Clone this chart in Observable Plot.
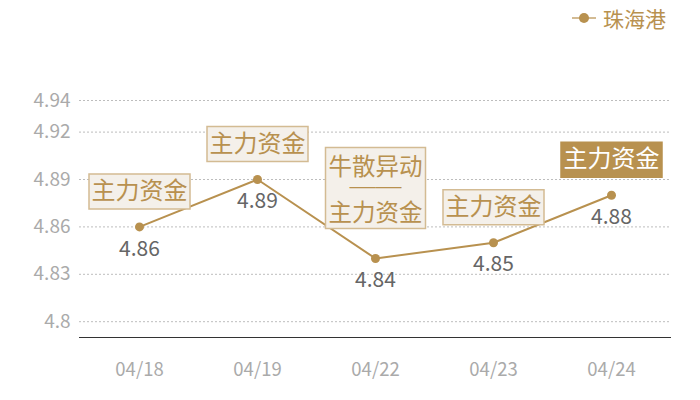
<!DOCTYPE html>
<html>
<head>
<meta charset="utf-8">
<script src="https://cdn.jsdelivr.net/npm/d3@7"></script>
<script src="https://cdn.jsdelivr.net/npm/@observablehq/plot@0.6"></script>
<style>
  html, body { margin: 0; padding: 0; background: #fff; }
  #wrap { position: relative; width: 700px; height: 400px; }
  #legend { position: absolute; top: 3px; left: 572px; display: flex; align-items: center;
    font-family: "Noto Sans CJK SC", sans-serif; font-size: 21px; color: #b8914f; }
  #legend .sw { position: relative; width: 24px; height: 26px; margin-right: 7px; }
  #legend .sw .ln { position: absolute; left: 0; right: 0; top: 12px; height: 2px; background: #d3bb93; }
  #legend .sw .dt { position: absolute; left: 7px; top: 8px; width: 10px; height: 10px; border-radius: 50%; background: #b8914f; }
</style>
</head>
<body>
<div id="wrap">
  <div id="chart"></div>
  <div id="legend"><span class="sw"><span class="ln"></span><span class="dt"></span></span><span>珠海港</span></div>
</div>
<script>
const dates = ["04/18", "04/19", "04/22", "04/23", "04/24"];
const prices = [4.86, 4.89, 4.84, 4.85, 4.88];
const tags = ["主力资金", "主力资金", "牛散异动\n——\n主力资金", "主力资金", "主力资金"];
const tagStyle = ["plain", "plain", "plain", "plain", "solid"];
const yTicks = [4.8, 4.83, 4.86, 4.89, 4.92, 4.94];
const yTickLabels = ["4.8", "4.83", "4.86", "4.89", "4.92", "4.94"];
const seriesName = "珠海港";

const data = dates.map((d, i) => ({date: d, price: prices[i], tag: tags[i], style: tagStyle[i], parts: tags[i].split("\n")}));

const gold = "#b8914f";
const font = "Noto Sans CJK SC, Noto Sans, sans-serif";

const boxOne = {draw(ctx) { ctx.rect(-50.5, -53, 101, 35); }};
const boxThree = {draw(ctx) { ctx.rect(-50, -111, 100, 81); }};

const one = data.filter(d => d.parts.length === 1);
const three = data.filter(d => d.parts.length > 1);

const plot = Plot.plot({
  width: 700,
  height: 400,
  marginTop: 100,
  marginBottom: 63,
  marginLeft: 79,
  marginRight: 29,
  style: {fontFamily: font, background: "#fff", overflow: "visible"},
  x: {type: "point", domain: dates, padding: 0.5, label: null},
  y: {domain: [4.79, 4.94], label: null},
  marks: [
    Plot.gridY(yTicks, {stroke: "#bdbdbd", strokeOpacity: 1, strokeDasharray: "2,2"}),
    Plot.ruleY([4.79], {stroke: "#333", strokeWidth: 1.2}),
    Plot.axisY(yTicks, {tickSize: 0, tickPadding: 9, fontSize: 19, fill: "#aaa",
      tickFormat: (d, i) => yTickLabels[i], label: null}),
    Plot.axisX({tickSize: 0, tickPadding: 25, fontSize: 18.5, fill: "#aaa", label: null}),
    Plot.line(data, {x: "date", y: "price", stroke: gold, strokeWidth: 2}),
    Plot.dot(data, {x: "date", y: "price", r: 4.5, fill: gold}),
    Plot.text(data, {x: "date", y: "price", text: d => d.price.toFixed(2), dy: 22, fontSize: 21, fill: "#666"}),
    Plot.dot(one, {x: "date", y: "price", symbol: boxOne, r: 10,
      fill: d => d.style === "solid" ? gold : "#f4f0ea",
      stroke: d => d.style === "solid" ? gold : "#d3bb93", strokeWidth: 1.5}),
    Plot.dot(three, {x: "date", y: "price", symbol: boxThree, r: 10,
      fill: "#f4f0ea", stroke: "#d3bb93", strokeWidth: 1.5}),
    Plot.text(one, {x: "date", y: "price", text: "tag", dy: -35.5, fontSize: 24,
      fill: d => d.style === "solid" ? "#fff" : gold}),
    Plot.text(three, {x: "date", y: "price", text: d => d.parts[0], dy: -91, fontSize: 23.5, fill: gold}),
    Plot.text(three, {x: "date", y: "price", text: d => d.parts[1], dy: -70.5, fontSize: 10, fill: gold,
      fontFamily: "Liberation Sans", fontWeight: "bold"}),
    Plot.text(three, {x: "date", y: "price", text: d => d.parts[2], dy: -45, fontSize: 23.5, fill: gold})
  ]
});
// stretch the separator dash to the reference's width
d3.select(plot).selectAll("text").filter(function() { return this.textContent === "——"; })
  .attr("textLength", 52).attr("lengthAdjust", "spacingAndGlyphs");
document.getElementById("chart").appendChild(plot);
</script>
</body>
</html>
